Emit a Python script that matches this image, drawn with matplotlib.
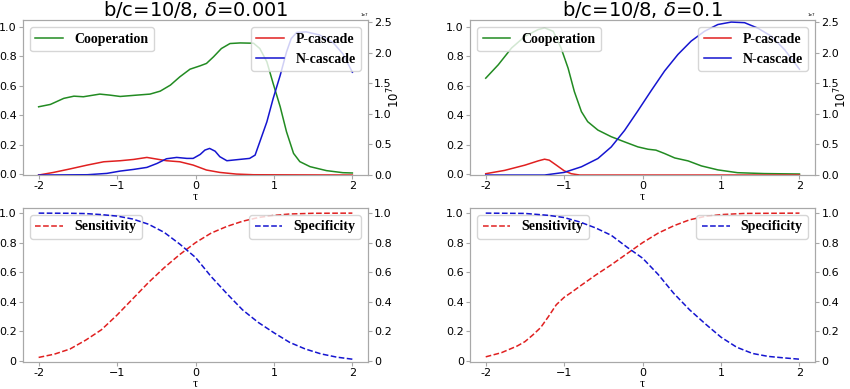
import matplotlib.pyplot as plt
from matplotlib.ticker import ScalarFormatter

# ---- data (tau, value) ----
# top-left: b/c=10/8, delta=0.001
coop1_t = [-2.0, -1.85, -1.68, -1.55, -1.43, -1.22, -1.09, -0.96, -0.75, -0.58, -0.45, -0.32, -0.2, -0.07, 0.06, 0.14, 0.23,
           0.33, 0.44, 0.57, 0.74, 0.82, 0.91, 0.99, 1.08, 1.16, 1.25, 1.33, 1.46, 1.67, 1.88, 2.0]
coop1_v = [0.458, 0.474, 0.515, 0.53, 0.526, 0.544, 0.537, 0.528, 0.537, 0.544, 0.564, 0.605, 0.661, 0.713, 0.736, 0.752, 0.797,
           0.853, 0.887, 0.891, 0.889, 0.853, 0.763, 0.616, 0.458, 0.289, 0.142, 0.086, 0.052, 0.025, 0.011, 0.009]
pcas1_t = [-2.0, -1.81, -1.6, -1.38, -1.17, -0.96, -0.79, -0.62, -0.49, -0.37, -0.2, -0.03, 0.14, 0.31, 0.52, 0.74, 2.0]
pcas1_v = [0.0, 0.043, 0.1, 0.163, 0.217, 0.234, 0.255, 0.288, 0.26, 0.234, 0.217, 0.163, 0.082, 0.043, 0.016, 0.005, 0.0]  # x1e7
ncas1_t = [-2.0, -1.38, -1.13, -0.96, -0.79, -0.62, -0.49, -0.37, -0.24, -0.11, -0.03, 0.06, 0.12, 0.18, 0.25, 0.31, 0.4,
           0.52, 0.69, 0.76, 0.82, 0.91, 0.99, 1.08, 1.16, 1.22, 1.29, 1.41, 1.58, 1.75, 1.88, 2.0]
ncas1_v = [0.0, 0.005, 0.027, 0.065, 0.092, 0.125, 0.19, 0.266, 0.288, 0.272, 0.272, 0.337, 0.408, 0.435, 0.39, 0.30, 0.234,
           0.25, 0.272, 0.326, 0.543, 0.87, 1.25, 1.63, 2.01, 2.23, 2.33, 2.34, 2.29, 2.17, 1.98, 1.68]  # x1e7

# top-right: b/c=10/8, delta=0.1
coop2_t = [-2.0, -1.84, -1.67, -1.5, -1.33, -1.25, -1.14, -1.04, -0.95, -0.87, -0.78, -0.7, -0.57, -0.4, -0.23, -0.06, 0.07,
           0.17, 0.28, 0.41, 0.58, 0.75, 0.96, 1.21, 1.55, 2.0]
coop2_v = [0.652, 0.743, 0.857, 0.936, 0.982, 0.993, 0.97, 0.857, 0.72, 0.561, 0.425, 0.357, 0.3, 0.255, 0.22, 0.186, 0.17,
           0.164, 0.141, 0.111, 0.091, 0.057, 0.03, 0.011, 0.005, 0.002]
pcas2_t = [-2.0, -1.76, -1.5, -1.33, -1.25, -1.19, -1.1, -1.0, -0.91, -0.8, 2.0]
pcas2_v = [0.022, 0.076, 0.162, 0.232, 0.259, 0.243, 0.162, 0.07, 0.022, 0.0, 0.0]  # x1e7
ncas2_t = [-2.0, -1.25, -1.0, -0.78, -0.57, -0.4, -0.23, -0.06, 0.11, 0.28, 0.45, 0.62, 0.79, 0.96, 1.13, 1.3, 1.47, 1.64,
           1.81, 2.0]
ncas2_v = [0.0, 0.0, 0.043, 0.135, 0.27, 0.459, 0.729, 1.05, 1.38, 1.7, 1.97, 2.19, 2.35, 2.46, 2.5, 2.49, 2.4, 2.27,
           2.05, 1.73]  # x1e7

# bottom-left
sens1_t = [-2.0, -1.8, -1.6, -1.4, -1.2, -1.0, -0.8, -0.6, -0.4, -0.2, 0.0, 0.2, 0.4, 0.6, 0.8, 1.0, 1.2, 1.5, 2.0]
sens1_v = [0.023, 0.045, 0.08, 0.14, 0.21, 0.31, 0.42, 0.53, 0.63, 0.72, 0.80, 0.865, 0.91, 0.945, 0.97, 0.985, 0.994, 0.999, 1.0]
spec1_t = [-2.0, -1.6, -1.4, -1.2, -1.0, -0.8, -0.6, -0.4, -0.2, 0.0, 0.2, 0.4, 0.6, 0.8, 1.0, 1.2, 1.4, 1.6, 1.8, 2.0]
spec1_v = [1.0, 0.999, 0.997, 0.99, 0.98, 0.96, 0.925, 0.87, 0.79, 0.70, 0.57, 0.455, 0.345, 0.26, 0.19, 0.125, 0.08, 0.047,
           0.025, 0.011]

# bottom-right
sens2_t = [-2.0, -1.8, -1.6, -1.5, -1.4, -1.3, -1.2, -1.1, -1.0, -0.9, -0.8, -0.6, -0.4, -0.2, 0.0, 0.2, 0.4, 0.6, 0.8, 1.0,
           1.3, 2.0]
sens2_v = [0.027, 0.055, 0.1, 0.13, 0.175, 0.225, 0.3, 0.38, 0.43, 0.466, 0.505, 0.58, 0.65, 0.725, 0.8, 0.865, 0.915, 0.955,
           0.978, 0.99, 0.998, 1.0]
spec2_t = [-2.0, -1.5, -1.2, -1.0, -0.8, -0.6, -0.4, -0.2, 0.0, 0.2, 0.4, 0.6, 0.8, 1.0, 1.2, 1.4, 1.6, 1.8, 2.0]
spec2_v = [1.0, 0.998, 0.985, 0.97, 0.94, 0.9, 0.85, 0.77, 0.695, 0.584, 0.455, 0.345, 0.25, 0.16, 0.092, 0.05, 0.03, 0.02,
           0.011]

titles = ["b/c=10/8, $\\delta$=0.001", "b/c=10/8, $\\delta$=0.1"]
xticks = [-2, -1, 0, 1, 2]
xticklabels = ["-2", "\u22121", "0", "1", "2"]

SPINE = "#a8a8a8"
LEG_FONT = {"family": "Liberation Serif", "weight": "bold", "size": 10}
TICK_FS = 8

fig = plt.figure(figsize=(8.5, 3.89), dpi=100)


def style(ax):
    for s in ax.spines.values():
        s.set_color(SPINE)
    ax.tick_params(colors=SPINE, labelcolor="black", labelsize=TICK_FS, length=3, pad=1.5)


def base_axes(rect):
    ax = fig.add_axes(rect)
    ax.set_xlim(-2.2, 2.2)
    ax.set_xticks(xticks)
    ax.set_xticklabels(xticklabels)
    ax.set_xlabel("\u03c4", family="Liberation Serif", fontsize=9, labelpad=0)
    style(ax)
    return ax


tops = [
    (coop1_t, coop1_v, pcas1_t, pcas1_v, ncas1_t, ncas1_v),
    (coop2_t, coop2_v, pcas2_t, pcas2_v, ncas2_t, ncas2_v),
]
bots = [
    (sens1_t, sens1_v, spec1_t, spec1_v),
    (sens2_t, sens2_v, spec2_t, spec2_v),
]
lefts = [0.027, 0.553]

for i, left in enumerate(lefts):
    # top panel
    ct, cv, pt, pv, nt, nv = tops[i]
    ax = base_axes([left, 0.550, 0.406, 0.398])
    ax.plot(ct, cv, color="#228b22", lw=1.1, label="Cooperation")
    ax.set_ylim(-0.005, 1.045)
    ax.set_yticks([0, 0.2, 0.4, 0.6, 0.8, 1.0])
    ax.set_yticklabels(["0.0", "0.2", "0.4", "0.6", "0.8", "1.0"])
    ax.set_title(titles[i], fontsize=14, pad=2)
    ax.legend(loc="upper left", prop=LEG_FONT)

    ax2 = ax.twinx()
    ax2.plot(pt, [v * 1e7 for v in pv], color="#e02020", lw=1.1, label="P-cascade")
    ax2.plot(nt, [v * 1e7 for v in nv], color="#1515d0", lw=1.1, label="N-cascade")
    ax2.set_ylim(0, 2.53e7)
    ax2.set_yticks([0, 0.5e7, 1.0e7, 1.5e7, 2.0e7, 2.5e7])
    fmt = ScalarFormatter(useMathText=False)
    fmt.set_powerlimits((0, 0))
    ax2.yaxis.set_major_formatter(fmt)
    ax2.yaxis.get_offset_text().set_fontsize(3)
    ax2.set_ylabel("$10^7$", fontsize=8.5)
    ax2.yaxis.set_label_coords(1.05, 0.5)
    style(ax2)
    ax2.legend(loc="upper right", prop=LEG_FONT)

    # bottom panel
    st, sv, pt2, pv2 = bots[i]
    bx = base_axes([left, 0.0694, 0.406, 0.396])
    bx.plot(st, sv, color="#e02020", lw=1.1, ls="--", label="Sensitivity")
    bx.set_ylim(-0.008, 1.035)
    bx.set_yticks([0, 0.2, 0.4, 0.6, 0.8, 1.0])
    bx.set_yticklabels(["0", "0.2", "0.4", "0.6", "0.8", "1.0"])
    bx.legend(loc="upper left", prop=LEG_FONT)

    bx2 = bx.twinx()
    bx2.plot(pt2, pv2, color="#1515d0", lw=1.1, ls="--", label="Specificity")
    bx2.set_ylim(-0.008, 1.035)
    bx2.set_yticks([0, 0.2, 0.4, 0.6, 0.8, 1.0])
    bx2.set_yticklabels(["0", "0.2", "0.4", "0.6", "0.8", "1.0"])
    style(bx2)
    bx2.legend(loc="upper right", prop=LEG_FONT)

fig.savefig("out.png", dpi=100)
